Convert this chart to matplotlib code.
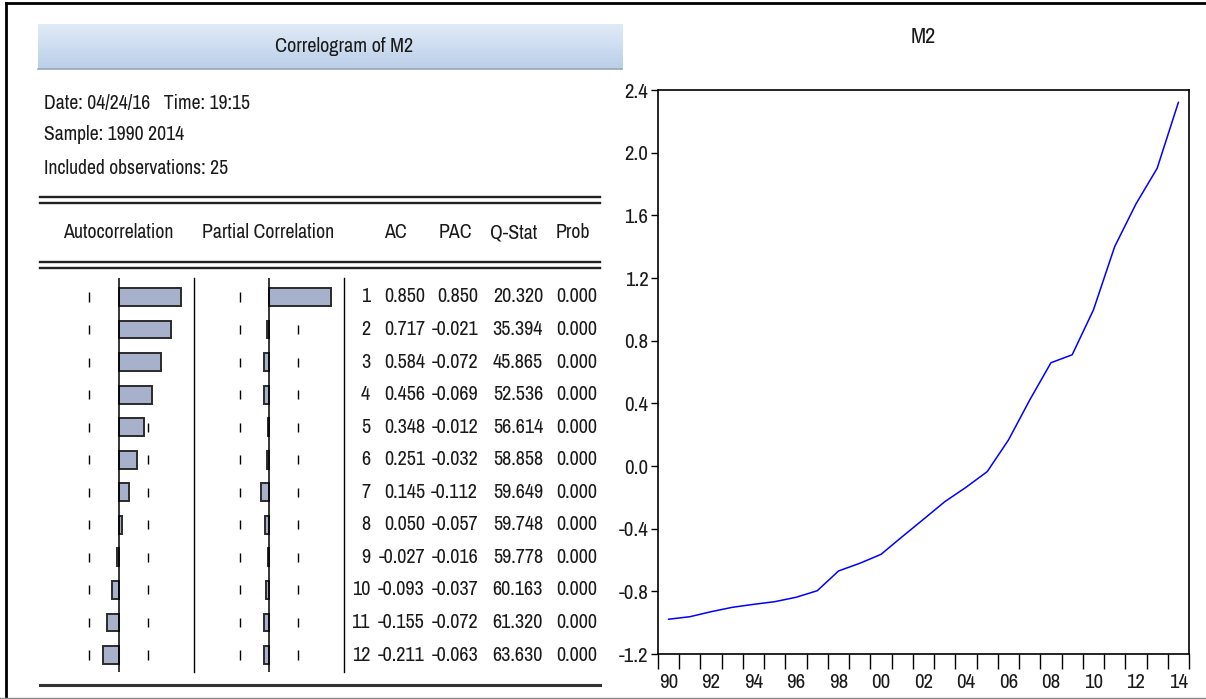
import matplotlib.pyplot as plt
import numpy as np
from matplotlib.transforms import blended_transform_factory

# correlogram table
lags = np.arange(1, 13)
ac = [0.850, 0.717, 0.584, 0.456, 0.348, 0.251, 0.145, 0.050, -0.027, -0.093, -0.155, -0.211]
pac = [0.850, -0.021, -0.072, -0.069, -0.012, -0.032, -0.112, -0.057, -0.016, -0.037, -0.072, -0.063]
qstat = [20.320, 35.394, 45.865, 52.536, 56.614, 58.858, 59.649, 59.748, 59.778, 60.163, 61.320, 63.630]
prob = [0.000] * 12
nobs = 25
info = ["Date: 04/24/16   Time: 19:15", "Sample: 1990 2014", "Included observations: %d" % nobs]
headers = ["Autocorrelation", "Partial Correlation", "AC", "PAC", "Q-Stat", "Prob"]

# M2 series, 1990-2014
years = np.arange(1990, 2015)
m2 = [-0.978, -0.962, -0.930, -0.902, -0.883, -0.866, -0.838, -0.796, -0.670, -0.621,
      -0.564, -0.451, -0.340, -0.228, -0.136, -0.036, 0.166, 0.421, 0.659, 0.710,
      0.996, 1.400, 1.672, 1.900, 2.321]

W, H = 1206, 699
plt.rcParams['font.family'] = ['Archivo Narrow', 'DejaVu Sans']
TXT = '#1a1a1a'


def box(l, t, r, b):
    return [l / W, 1 - b / H, (r - l) / W, (b - t) / H]


fig = plt.figure(figsize=(W / 100, H / 100), dpi=100)

# background layer in pixel units
bg = fig.add_axes([0, 0, 1, 1])
bg.set_xlim(0, W)
bg.set_ylim(H, 0)
bg.axis('off')

# frame
bg.plot([6, W], [3, 3], color='black', lw=2)
bg.plot([6, 6], [3, 697], color='black', lw=2)
bg.plot([0, W], [697.5, 697.5], color='#8a8a8a', lw=1)

# title bar with gradient
grad = np.linspace(0, 1, 64).reshape(-1, 1)
top = np.array([0.88, 0.92, 0.97])
bot = np.array([0.73, 0.81, 0.91])
img = top + grad[..., None] * (bot - top)
bg.imshow(img, extent=[37.5, 622, 69, 24], aspect='auto', zorder=1)
bg.plot([37.5, 622], [69, 69], color='#9aa6b5', lw=1.2, zorder=2)
bg.text(344, 46, "Correlogram of M2", ha='center', va='center', fontsize=14.6, color=TXT)

for i, s in enumerate(info):
    bg.text(44, [103, 135, 168][i], s, ha='left', va='center', fontsize=14.2, color=TXT)

for y in (197, 203, 262, 268):
    bg.plot([39.5, 600], [y, y], color='#222222', lw=1.7)
bg.plot([39.5, 600], [685, 685], color='#333333', lw=2.2)

for x, s in zip([118, 268, 395, 455, 514, 573], headers):
    bg.text(x, 233, s, ha='center', va='center', fontsize=14.3, color=TXT)

# bar panels: x in correlation units, y in lag units
ylims = (12 + (672 - 655) / 32.55, 1 - (297 - 278) / 32.55)
bound = 2 / np.sqrt(nobs)
panels = []
for zero_px, vals in ((118.6, ac), (269.0, pac)):
    ax = fig.add_axes(box(zero_px - 73, 278, zero_px + 73, 672))
    ax.set_xlim(-1, 1)
    ax.set_ylim(*ylims)
    ax.axis('off')
    ax.axvline(0, color='black', lw=1.1, zorder=3)
    for b in (-bound, bound):
        ax.vlines(np.full(12, b), lags - 0.14, lags + 0.14, color='black', lw=1, zorder=1)
    ax.barh(lags, vals, height=0.55, left=0, color='#a8b1cc', edgecolor='#2b2b2b',
            linewidth=1.4, zorder=2)
    panels.append(ax)

bg.plot([194, 194], [278, 672], color='black', lw=1)
bg.plot([344, 344], [278, 672], color='black', lw=1)

# numeric columns
tr = blended_transform_factory(bg.transData, panels[0].transData)
for k in range(12):
    row = [str(lags[k]), "%.3f" % ac[k], "%.3f" % pac[k], "%.3f" % qstat[k], "%.3f" % prob[k]]
    for x, s in zip([370, 425, 478, 543, 597], row):
        bg.text(x, lags[k], s, transform=tr, ha='right', va='center', fontsize=14.5, color=TXT)

# line graph of M2
ax2 = fig.add_axes(box(658, 90, 1189, 654))
ax2.plot(years, m2, color='#0000ff', lw=1.1)
ax2.set_xlim(1989.5, 2014.5)
ax2.set_ylim(-1.2, 2.4)
ax2.set_yticks(np.arange(-1.2, 2.41, 0.4))
ax2.set_yticklabels(["%.1f" % v for v in np.arange(-1.2, 2.41, 0.4)])
ax2.set_xticks(years[::2])
ax2.set_xticklabels(["%02d" % (y % 100) for y in years[::2]])
ax2.set_xticks(np.arange(1989.5, 2015, 1), minor=True)
ax2.tick_params(axis='x', which='major', length=0, pad=14, labelsize=15, labelcolor=TXT)
ax2.tick_params(axis='x', which='minor', length=11, width=1, direction='out')
ax2.tick_params(axis='y', length=5, width=1, direction='out', pad=2, labelsize=15, labelcolor=TXT)
for sp in ax2.spines.values():
    sp.set_linewidth(1.2)
ax2.set_title("M2", fontsize=16, color=TXT, pad=34)

fig.savefig("out.png", dpi=100)
